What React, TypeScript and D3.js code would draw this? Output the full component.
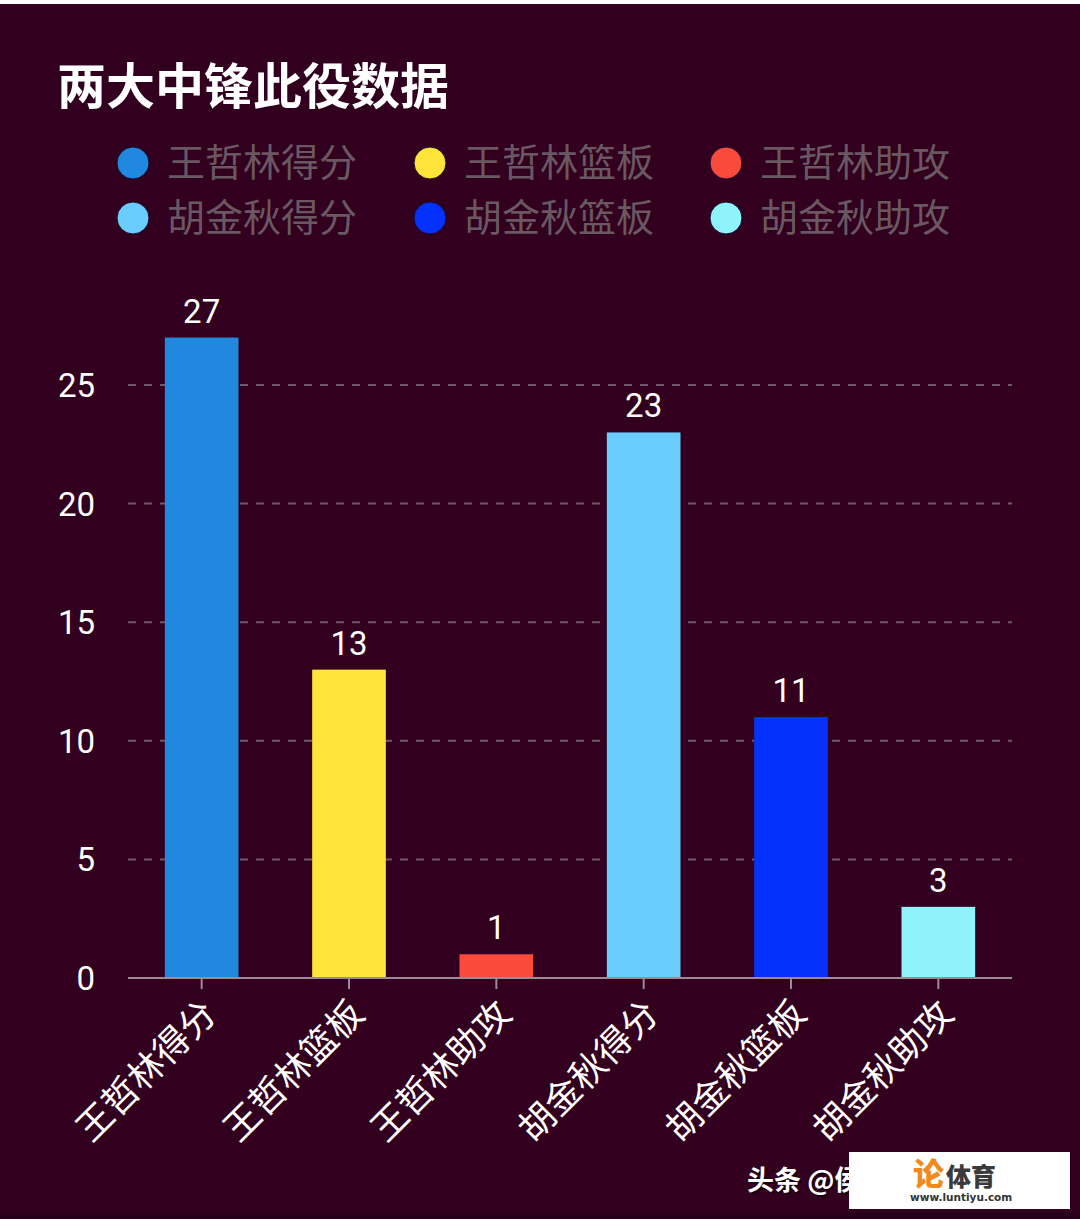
import React from "react";
import * as d3 from "d3";

const categories = ["王哲林得分", "王哲林篮板", "王哲林助攻", "胡金秋得分", "胡金秋篮板", "胡金秋助攻"];
const values = [27, 13, 1, 23, 11, 3];
const colors = ["#2188e0", "#fee43a", "#f94a3c", "#6bcdfd", "#0432fc", "#8ef3fb"];
const yTicks = [0, 5, 10, 15, 20, 25];
const title = "两大中锋此役数据";

const W = 1080;
const H = 1219;
const BG = "#32001e";
const FONT = "Roboto, 'Noto Sans CJK SC', sans-serif";
const CJK = "'Noto Sans CJK SC', sans-serif";

export default function App() {
  const x = d3.scaleBand<string>().domain(categories).range([128, 1012]).paddingInner(0.5).paddingOuter(0.25);
  const y = d3.scaleLinear().domain([0, 25]).range([978, 385]);
  const legendCols = [133, 430, 726];
  const legendRows = [163, 218];

  return (
    <svg width={W} height={H} style={{ position: "absolute", left: 0, top: 0, display: "block" }}>
      <rect x={0} y={0} width={W} height={H} fill="#ffffff" />
      <rect x={0} y={4} width={W} height={H - 4} fill={BG} />
      <rect x={0} y={H - 6} width={W} height={6} fill="#26001a" />
      <text x={57} y={104} fill="#ffffff" fontSize={49} fontWeight={700} fontFamily={CJK}>{title}</text>
      {categories.map((c, i) => {
        const cx = legendCols[i % 3];
        const cy = legendRows[Math.floor(i / 3)];
        return (
          <g key={"lg" + i}>
            <circle cx={cx} cy={cy} r={16} fill={colors[i]} stroke="#1a0a30" strokeWidth={1} />
            <text x={cx + 34} y={cy + 13} fill="#695862" fontSize={38} fontFamily={CJK}>{c}</text>
          </g>
        );
      })}
      {yTicks.map((t) => (
        <g key={"yt" + t}>
          {t > 0 && (
            <line x1={128} x2={1012} y1={y(t)} y2={y(t)} stroke="#6e5a66" strokeWidth={2} strokeDasharray="8,8" />
          )}
          <text x={95} y={y(t) + 12} textAnchor="end" fill="#ffffff" fontSize={33} fontFamily={FONT}>{t}</text>
        </g>
      ))}
      {categories.map((c, i) => (
        <g key={"bar" + i}>
          <rect x={x(c)!} y={y(values[i])} width={x.bandwidth()} height={y(0) - y(values[i])} fill={colors[i]} />
          <text x={x(c)! + x.bandwidth() / 2} y={y(values[i]) - 15} textAnchor="middle" fill="#ffffff" fontSize={33} fontFamily={FONT}>{values[i]}</text>
        </g>
      ))}
      <line x1={128} x2={1012} y1={978} y2={978} stroke="#9c8a94" strokeWidth={2} />
      {categories.map((c, i) => {
        const cx = x(c)! + x.bandwidth() / 2;
        return (
          <g key={"xt" + i}>
            <line x1={cx} x2={cx} y1={978} y2={989} stroke="#9c8a94" strokeWidth={2} />
            <text
              transform={`translate(${cx - 2},${997}) rotate(-45)`}
              textAnchor="end"
              fill="#ffffff"
              fontSize={36}
              fontFamily={CJK}
              dy="0.75em"
            >{c}</text>
          </g>
        );
      })}
      <text x={747} y={1190} fill="#000000" opacity={0.5} fontSize={27} fontWeight={700} fontFamily={CJK} transform="translate(2,2)">头条 @侯</text>
      <text x={747} y={1190} fill="#ffffff" fontSize={27} fontWeight={700} fontFamily={CJK}>头条 @侯</text>
      <rect x={849} y={1152} width={221} height={57} fill="#ffffff" />
      <text x={913} y={1185} fill="#f08a1c" fontSize={31} fontWeight={900} fontFamily={CJK}>论</text>
      <text x={946} y={1186} fill="#3a3a3a" fontSize={25} fontWeight={900} fontFamily={CJK}>体育</text>
      <text x={910} y={1201} fill="#333333" fontSize={10.5} fontWeight={700} fontFamily="'DejaVu Sans', sans-serif">www.luntiyu.com</text>
    </svg>
  );
}
